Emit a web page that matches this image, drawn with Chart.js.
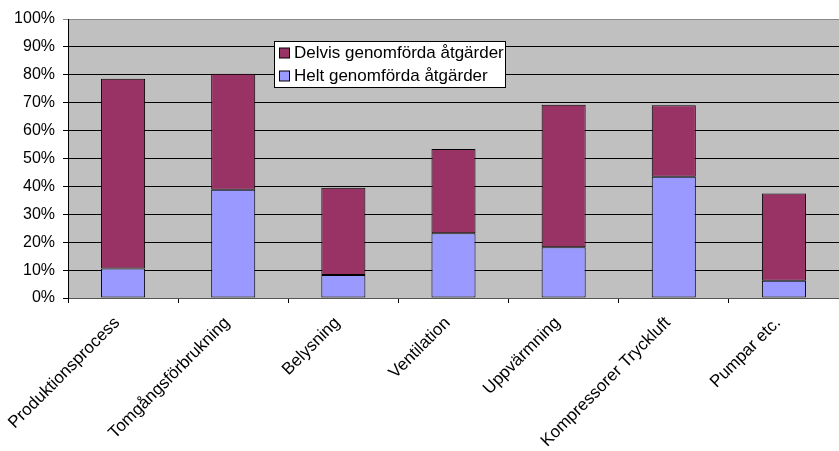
<!DOCTYPE html>
<html>
<head>
<meta charset="utf-8">
<script src="https://cdn.jsdelivr.net/npm/chart.js@4.4.1/dist/chart.umd.min.js"></script>
<style>
  html, body { margin: 0; padding: 0; background: #fff; }
</style>
</head>
<body>
<canvas id="myBarChart" width="839" height="451"></canvas>
<script>
// Categories and values (percent)
const categories = ['Produktionsprocess', 'Tomgångsförbrukning', 'Belysning', 'Ventilation',
    'Uppvärmning', 'Kompressorer Tryckluft', 'Pumpar etc.'];
const heltValues = [10.6, 38.8, 8.2, 23.2, 18.2, 43.5, 6.2];
const delvisValues = [68.0, 41.6, 31.3, 30.2, 51.1, 25.6, 31.3];
const yTicks = [0, 10, 20, 30, 40, 50, 60, 70, 80, 90, 100];

const fontFamily = '"Liberation Sans", Arial, sans-serif';

// grey plot background
const plotBg = {
    id: 'plotBg',
    beforeDraw(chart) {
        const a = chart.chartArea;
        const c = chart.ctx;
        c.save();
        c.fillStyle = '#c0c0c0';
        c.fillRect(a.left, a.top, a.right - a.left, a.bottom - a.top);
        c.restore();
    }
};

// legend box sitting inside the plot
const boxLegend = {
    id: 'boxLegend',
    afterDraw(chart) {
        const c = chart.ctx;
        const items = [chart.data.datasets[1], chart.data.datasets[0]];
        c.save();
        c.fillStyle = '#fff';
        c.strokeStyle = '#000';
        c.lineWidth = 1;
        c.fillRect(274.5, 41.5, 231, 46);
        c.strokeRect(274.5, 41.5, 231, 46);
        c.font = '17px ' + fontFamily;
        c.textBaseline = 'middle';
        items.forEach((ds, i) => {
            const y = 53.5 + i * 23;
            c.fillStyle = ds.backgroundColor;
            c.fillRect(279.5, y - 5.5, 10, 10);
            c.strokeRect(279.5, y - 5.5, 10, 10);
            c.fillStyle = '#000';
            c.fillText(ds.label, 294, y);
        });
        c.restore();
    }
};

var ctx = document.getElementById('myBarChart').getContext('2d');
var myBarChart = new Chart(ctx, {
    type: 'bar',
    data: {
        labels: categories,
        datasets: [{
            label: 'Helt genomförda åtgärder',
            data: heltValues,
            backgroundColor: '#9999ff',
            borderColor: '#000',
            borderWidth: 1,
            borderSkipped: false,
            barPercentage: 0.4,
            categoryPercentage: 1
        }, {
            label: 'Delvis genomförda åtgärder',
            data: delvisValues,
            backgroundColor: '#993366',
            borderColor: '#000',
            borderWidth: 1,
            borderSkipped: false,
            barPercentage: 0.4,
            categoryPercentage: 1
        }]
    },
    options: {
        responsive: false,
        animation: false,
        devicePixelRatio: 1,
        layout: { padding: { top: 19, right: 0, left: 0, bottom: 0 } },
        plugins: {
            legend: { display: false },
            tooltip: { enabled: false }
        },
        scales: {
            x: {
                stacked: true,
                offset: true,
                grid: { drawOnChartArea: false, offset: true, tickLength: 5, color: '#000' },
                border: { color: '#555' },
                ticks: {
                    autoSkip: false,
                    maxRotation: 45,
                    minRotation: 45,
                    padding: 10,
                    labelOffset: -6,
                    color: '#000',
                    font: { size: 17, family: fontFamily }
                },
                afterFit(scale) { scale.height = 153; }
            },
            y: {
                stacked: true,
                min: 0,
                max: 100,
                afterBuildTicks(scale) { scale.ticks = yTicks.map(v => ({ value: v })); },
                grid: {
                    tickLength: 5,
                    color: (c) => c.tick && c.tick.value === 100 ? '#888' : '#000'
                },
                border: { color: '#000' },
                ticks: {
                    padding: 8,
                    color: '#000',
                    font: { size: 16, family: fontFamily },
                    callback: (v) => v + '%'
                },
                afterFit(scale) { scale.width = 68; }
            }
        }
    },
    plugins: [plotBg, boxLegend]
});
</script>
</body>
</html>
